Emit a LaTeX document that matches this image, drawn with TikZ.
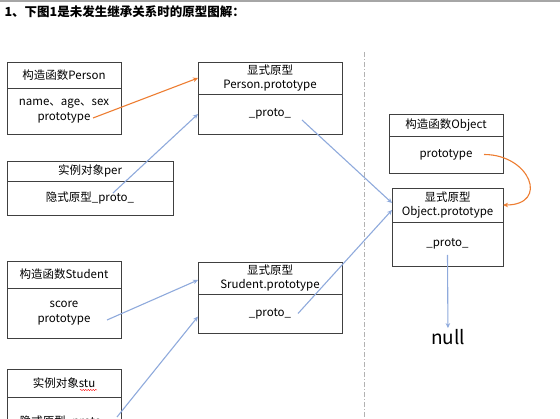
\documentclass[tikz,border=0pt]{standalone}
\usepackage{fontspec}
\setmainfont{Noto Sans CJK SC}
\usetikzlibrary{
	arrows.meta,
	positioning,
	calc,
	decorations.pathmorphing
}
\definecolor{protoorange}{HTML}{ED7D31}
\definecolor{protoblue}{HTML}{8FAADC}
\definecolor{boxgray}{HTML}{404040}

\begin{document}
\begin{tikzpicture}[x=1pt,y=-1pt,
		part/.style={draw=boxgray,line width=.9pt,outer sep=0pt,inner sep=1pt,align=center,font=\fontsize{11.5}{14.5}\selectfont},
		orangelink/.style={protoorange,line width=1.1pt,-{Stealth[length=5pt,width=4.5pt]}},
		bluelink/.style={protoblue,line width=1.1pt,-{Stealth[length=5pt,width=4.5pt]}}
	]

		\useasboundingbox (0,0) rectangle (560,419);
		\clip (0,0) rectangle (560,419);

		\draw[gray!70,line width=1.5pt] (0,1) -- (560,1);
		\node[anchor=west,font=\bfseries\fontsize{12.5}{14}\selectfont] (title) at (1,12) {1、下图1是未发生继承关系时的原型图解：};

		\node[part,minimum width=114pt,minimum height=26pt] (pcT) at (64,75) {构造函数Person};
		\node[part,minimum width=114pt,minimum height=46pt,below=0pt of pcT] (pcB) {name、age、sex\\prototype};

		\node[part,minimum width=166pt,minimum height=20pt] (ioT) at (90,171) {实例对象per};
		\node[part,minimum width=166pt,minimum height=34pt,below=0pt of ioT] (ioB) {隐式原型\_proto\_};

		\node[part,minimum width=114pt,minimum height=27pt] (scT) at (64,274.5) {构造函数Student};
		\node[part,minimum width=114pt,minimum height=50pt,below=0pt of scT] (scB) {score\\prototype};

		\node[part,minimum width=114pt,minimum height=28pt] (isT) at (64,383) {实例对象stu};
		\node[part,minimum width=114pt,minimum height=50pt,below=0pt of isT] (isB) {隐式原型\_proto\_};
		\draw[red,decorate,decoration={snake,amplitude=.6pt,segment length=2.5pt}] (80,390) -- (97,390);

		\node[part,minimum width=144pt,minimum height=32pt] (ppT) at (270,78) {显式原型\\Person.prototype};
		\node[part,minimum width=144pt,minimum height=40pt,below=0pt of ppT] (ppB) {\_proto\_};

		\node[part,minimum width=144pt,minimum height=32pt] (spT) at (270,278) {显式原型\\Srudent.prototype};
		\node[part,minimum width=144pt,minimum height=39pt,below=0pt of spT] (spB) {\_proto\_};

		\node[part,minimum width=114pt,minimum height=22pt] (ocT) at (446,125) {构造函数Object};
		\node[part,minimum width=114pt,minimum height=37pt,below=0pt of ocT] (ocB) {prototype};

		\node[part,minimum width=111pt,minimum height=34pt] (opT) at (447.5,205) {显式原型\\Object.prototype};
		\node[part,minimum width=111pt,minimum height=44pt,below=0pt of opT] (opB) {\_proto\_};

		\node[font=\fontsize{19}{22}\selectfont,inner sep=1pt] (null) at (448,337) {null};

		\draw[gray!60,dash pattern=on 5pt off 2pt on 1pt off 2pt] (364,52) -- (364,419);

		\coordinate (pcP) at ($(pcB.center)+(29,7)$);
		\coordinate (ioP) at ($(ioB.center)+(23,-5)$);
		\coordinate (ppP) at ($(ppB.center)+(32,6)$);
		\coordinate (scP) at ($(scB.center)+(43,7)$);
		\coordinate (isP) at ($(isB.center)+(53,-5)$);
		\coordinate (spP) at ($(spB.center)+(28,0)$);
		\coordinate (ocP) at ($(ocB.center)+(38,0)$);
		\coordinate (opP) at ($(opB.center)+(0,11)$);

		\draw[orangelink] (pcP) -- (ppT.west);
		\draw[bluelink] (ioP) -- (ppB.west);
		\draw[bluelink] (ppP) -- ([yshift=2pt]opT.west);
		\draw[bluelink] (scP) -- ([yshift=-2pt]spT.west);
		\draw[bluelink] (isP) -- ([yshift=-3pt]spB.west);
		\draw[bluelink] (spP) -- ([yshift=-5pt]opT.west);
		\draw[bluelink] (opP) -- (null);
		\draw[orangelink] (ocP) to[out=0,in=0,looseness=2.2] (opT.east);

	\end{tikzpicture}
\end{document}
